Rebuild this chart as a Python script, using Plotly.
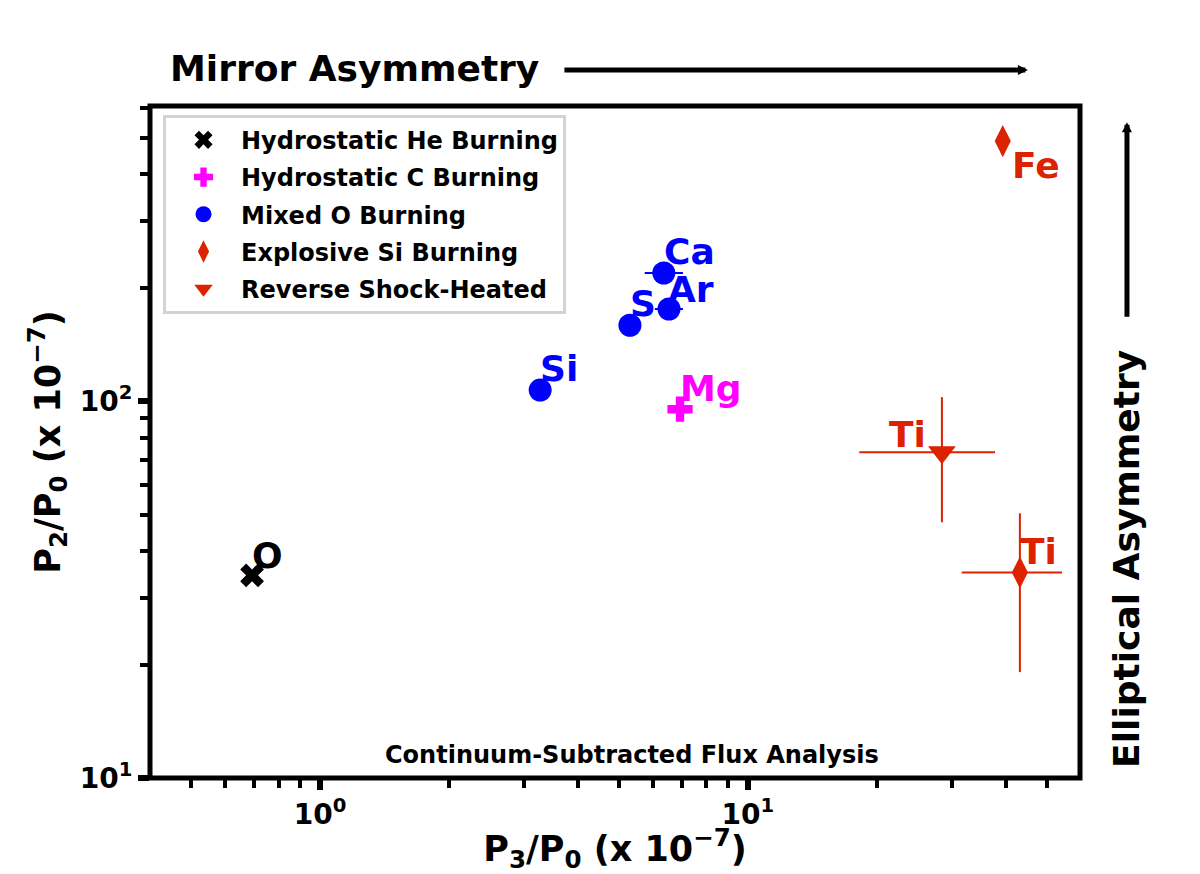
import numpy as np
import plotly.graph_objects as go

FONT = "DejaVu Sans"
RED = "#dc2200"
BLUE = "#0000ff"
MAGENTA = "#ff00ff"

# Hydrostatic He burning
he_labels = ["O"]
he_x = [0.694]
he_y = [34.5]

# Hydrostatic C burning
c_labels = ["Mg"]
c_x = [6.94]
c_y = [95.2]

# Mixed O burning
o_labels = ["Si", "S", "Ar", "Ca"]
o_x = [3.27, 5.30, 6.54, 6.36]
o_y = [107.0, 159.0, 175.6, 218.8]
o_xerr_minus = [0, 0, 0.48, 0.62]
o_xerr_plus = [0, 0, 0.51, 0.69]

# Explosive Si burning
si_labels = ["Fe", "Ti"]
si_x = [39.4, 43.2]
si_y = [490.0, 35.1]
si_xerr_minus = [0, 11.6]
si_xerr_plus = [0, 11.0]
si_yerr_minus = [0, 16.0]
si_yerr_plus = [0, 15.3]

# Reverse shock-heated
rs_labels = ["Ti"]
rs_x = [28.4]
rs_y = [73.2]
rs_xerr_minus = [10.2]
rs_xerr_plus = [9.4]
rs_yerr_minus = [25.5]
rs_yerr_plus = [29.3]

x_ticks = [1, 10]
x_ticktext = ["10<sup>0</sup>", "10<sup>1</sup>"]
y_ticks = [10, 100]
y_ticktext = ["10<sup>1</sup>", "10<sup>2</sup>"]


def err(minus, plus, color):
    return dict(type="data", symmetric=False, array=plus, arrayminus=minus,
                color=color, thickness=2, width=0)


fig = go.Figure()

fig.add_trace(go.Scatter(
    x=he_x, y=he_y, mode="markers", name="Hydrostatic He Burning", legendgroup="a",
    marker=dict(symbol="x", size=21, color="black", line=dict(width=0))))

fig.add_trace(go.Scatter(
    x=c_x, y=c_y, mode="markers", name="Hydrostatic C Burning", legendgroup="b",
    marker=dict(symbol="cross", size=21, color=MAGENTA, line=dict(width=0))))

fig.add_trace(go.Scatter(
    x=o_x, y=o_y, mode="markers", name="Mixed O Burning", legendgroup="c",
    error_x=err(o_xerr_minus, o_xerr_plus, BLUE),
    marker=dict(symbol="circle", size=23, color=BLUE, line=dict(width=0))))

fig.add_trace(go.Scatter(
    x=si_x, y=si_y, mode="markers", name="Explosive Si Burning", legendgroup="d",
    error_x=err(si_xerr_minus, si_xerr_plus, RED),
    error_y=err(si_yerr_minus, si_yerr_plus, RED),
    marker=dict(symbol="diamond-tall", size=23, color=RED, line=dict(width=0))))

fig.add_trace(go.Scatter(
    x=rs_x, y=rs_y, mode="markers", name="Reverse Shock-Heated", legendgroup="e",
    error_x=err(rs_xerr_minus, rs_xerr_plus, RED),
    error_y=err(rs_yerr_minus, rs_yerr_plus, RED),
    marker=dict(symbol="triangle-down", size=24, color=RED, line=dict(width=0))))

# element labels: (xanchor, xshift, yshift) per point
groups = [
    (he_labels, he_x, he_y, "black", [("left", -2, 20)]),
    (c_labels, c_x, c_y, MAGENTA, [("left", -2, 21)]),
    (o_labels, o_x, o_y, BLUE, [("left", -2, 22), ("left", -2, 22),
                                ("left", -3, 20), ("left", -2, 22)]),
    (si_labels, si_x, si_y, RED, [("left", 7, -24), ("left", -2, 21)]),
    (rs_labels, rs_x, rs_y, RED, [("right", -14, 18)]),
]
for labels, xs, ys, col, offs in groups:
    for lab, xv, yv, (anc, dx, dy) in zip(labels, xs, ys, offs):
        fig.add_annotation(x=np.log10(xv), y=np.log10(yv), xref="x", yref="y",
                           text=lab, showarrow=False, xanchor=anc, yanchor="middle",
                           xshift=dx, yshift=dy,
                           font=dict(family=FONT, size=36, color=col, weight="bold"))

# decorations
fig.add_annotation(x=0.0194, y=1.0565, xref="paper", yref="paper", text="Mirror Asymmetry",
                   showarrow=False, xanchor="left", yanchor="middle",
                   font=dict(family=FONT, size=36, color="black", weight="bold"))
fig.add_annotation(x=0.944, y=1.0536, ax=-465, ay=0, xref="paper", yref="paper",
                   axref="pixel", ayref="pixel", text="", showarrow=True,
                   arrowhead=2, arrowsize=0.4, arrowwidth=5, arrowcolor="black")
fig.add_annotation(x=1.0505, y=0.326, xref="paper", yref="paper", text="Elliptical Asymmetry",
                   showarrow=False, textangle=-90, xanchor="center", yanchor="middle",
                   font=dict(family=FONT, size=36, color="black", weight="bold"))
fig.add_annotation(x=1.0505, y=0.976, ax=0, ay=196, xref="paper", yref="paper",
                   axref="pixel", ayref="pixel", text="", showarrow=True,
                   arrowhead=2, arrowsize=0.4, arrowwidth=5, arrowcolor="black")
fig.add_annotation(x=0.5183, y=0.0342, xref="paper", yref="paper",
                   text="Continuum-Subtracted Flux Analysis", showarrow=False,
                   xanchor="center", yanchor="middle",
                   font=dict(family=FONT, size=24, color="black", weight="bold"))

# frame centred on the plot edges
fig.add_shape(type="rect", xref="paper", yref="paper", x0=0, x1=1, y0=0, y1=1,
              line=dict(color="black", width=5), layer="above")

x_minor = [k * 10.0 ** p for p in (-1, 0, 1) for k in range(2, 10)]
y_minor = [k * 10.0 ** p for p in (1, 2) for k in range(2, 10)]

axis_common = dict(
    type="log", showline=False, showgrid=False, zeroline=False, automargin=False,
    ticks="outside", ticklen=11, tickwidth=6, tickcolor="black", tickmode="array",
    tickfont=dict(family=FONT, size=28, color="black", weight="bold"),
)

fig.update_xaxes(range=[np.log10(0.4007), np.log10(59.7)],
                 tickvals=x_ticks, ticktext=x_ticktext,
                 minor=dict(tickmode="array", tickvals=x_minor, ticks="outside",
                            ticklen=9, tickwidth=4, tickcolor="black", showgrid=False),
                 title=dict(text="P<sub>3</sub>/P<sub>0</sub> (x 10<sup>−7</sup>)",
                            font=dict(family=FONT, size=35, color="black", weight="bold"),
                            standoff=19),
                 **axis_common)
fig.update_yaxes(range=[1, np.log10(607)],
                 tickvals=y_ticks, ticktext=y_ticktext,
                 minor=dict(tickmode="array", tickvals=y_minor, ticks="outside",
                            ticklen=9, tickwidth=4, tickcolor="black", showgrid=False),
                 title=dict(text="P<sub>2</sub>/P<sub>0</sub> (x 10<sup>−7</sup>)",
                            font=dict(family=FONT, size=35, color="black", weight="bold"),
                            standoff=8),
                 **axis_common)

fig.update_layout(
    width=1192, height=866,
    margin=dict(l=142, r=120, t=98, b=96),
    paper_bgcolor="white", plot_bgcolor="white",
    font=dict(family=FONT, color="black"),
    legend=dict(x=0.014, y=0.987, xanchor="left", yanchor="top",
                bgcolor="white", bordercolor="#d3d3d3", borderwidth=3,
                font=dict(family=FONT, size=24, color="black", weight="bold"),
                itemwidth=65, tracegroupgap=3),
)

fig.write_html("out.html")
